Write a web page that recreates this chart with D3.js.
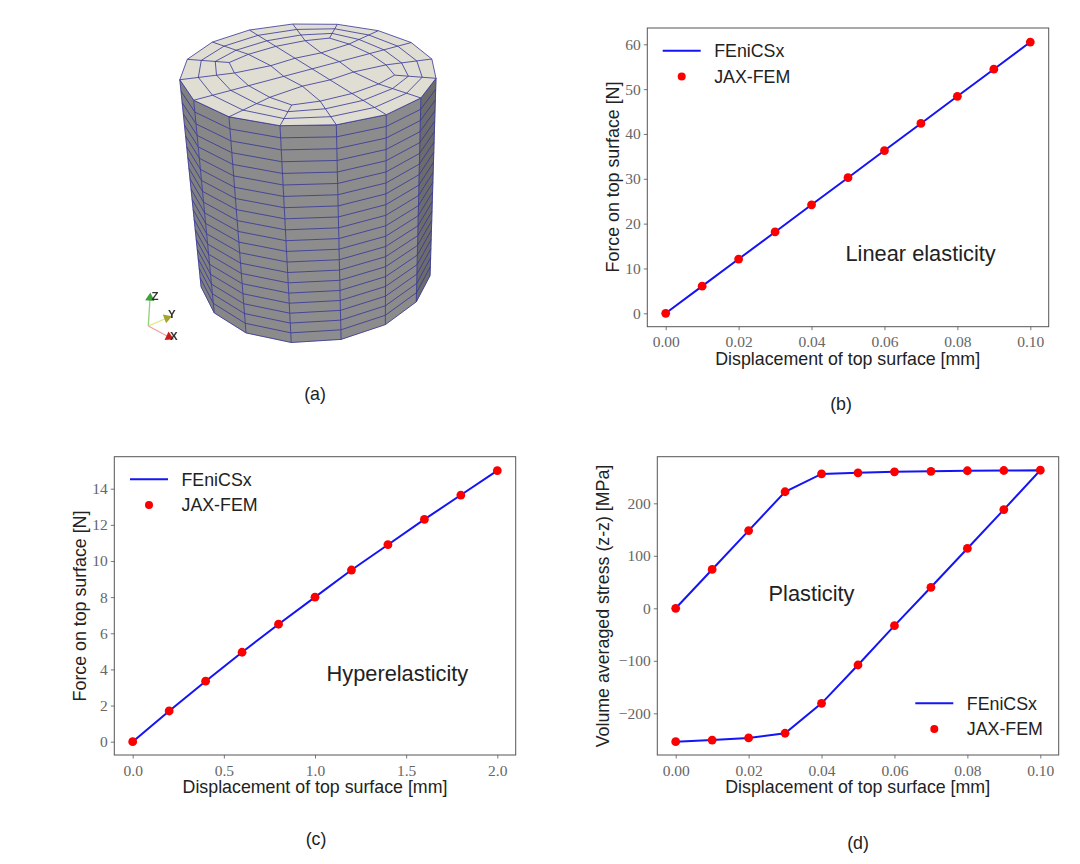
<!DOCTYPE html>
<html>
<head>
<meta charset="utf-8">
<script src="https://cdn.jsdelivr.net/npm/d3@7/dist/d3.min.js"></script>
<style>
  html, body { margin: 0; background: #fff; }
  svg { display: block; }
  .domain { display: none; }
</style>
</head>
<body>
<script>
// ---- values ----
const dispLinear = [0, 0.01, 0.02, 0.03, 0.04, 0.05, 0.06, 0.07, 0.08, 0.09, 0.10];
const forceLinear = [0, 6.05, 12.1, 18.15, 24.2, 30.25, 36.3, 42.35, 48.4, 54.45, 60.5];
const dispHyper = [0, 0.2, 0.4, 0.6, 0.8, 1.0, 1.2, 1.4, 1.6, 1.8, 2.0];
const forceHyper = [0, 1.7, 3.35, 4.95, 6.5, 8.0, 9.5, 10.9, 12.3, 13.65, 15.0];
const dispPlastic = [0, 0.01, 0.02, 0.03, 0.04, 0.05, 0.06, 0.07, 0.08, 0.09, 0.10,
  0.09, 0.08, 0.07, 0.06, 0.05, 0.04, 0.03, 0.02, 0.01, 0];
const stressPlastic = [0, 74, 148, 222, 256, 258, 260, 261, 262, 262.5, 263,
  188, 114, 40, -33, -108, -181, -238, -247, -251, -254];

const xTicksLinear = [0, 0.02, 0.04, 0.06, 0.08, 0.10];
const yTicksLinear = [0, 10, 20, 30, 40, 50, 60];
const xTicksHyper = [0, 0.5, 1.0, 1.5, 2.0];
const yTicksHyper = [0, 2, 4, 6, 8, 10, 12, 14];
const xTicksPlastic = [0, 0.02, 0.04, 0.06, 0.08, 0.10];
const yTicksPlastic = [-200, -100, 0, 100, 200];

const seriesNames = ['FEniCSx', 'JAX-FEM'];

const SANS = '"Liberation Sans", Arial, sans-serif';
const SERIF = '"Liberation Serif", serif';
const BLUE = '#1414f5';
const RED = '#fa0000';
const LABEL_SIZE = 17.8;

const svg = d3.select('body').append('svg').attr('width', 1080).attr('height', 864);

// ---- line charts ----
function drawPanel(p) {
  const g = svg.append('g');
  const x = d3.scaleLinear().domain(p.xDomain).range(p.xRange);
  const y = d3.scaleLinear().domain(p.yDomain).range(p.yRange);

  const xAxis = d3.axisBottom(x).tickValues(p.xTicks).tickSize(3.5).tickPadding(6)
    .tickFormat(d3.format(p.xFormat));
  const yAxis = d3.axisLeft(y).tickValues(p.yTicks).tickSize(3.5).tickPadding(3)
    .tickFormat(d => String(d).replace('-', '\u2212'));

  [[xAxis, `translate(0,${p.frame[3]})`], [yAxis, `translate(${p.frame[0]},0)`]].forEach(([ax, t]) => {
    const a = g.append('g').attr('transform', t).call(ax);
    a.selectAll('text').attr('font-family', SERIF).attr('font-size', 15.5).attr('fill', '#666');
    a.selectAll('line').attr('stroke', '#555').attr('stroke-width', 0.8);
  });

  g.append('path')
    .datum(p.ys)
    .attr('fill', 'none').attr('stroke', BLUE).attr('stroke-width', 2)
    .attr('d', d3.line().x((d, i) => x(p.xs[i])).y(d => y(d)));

  g.selectAll('circle.pt').data(p.ys).join('circle')
    .attr('class', 'pt').attr('r', 4.4).attr('fill', RED)
    .attr('cx', (d, i) => x(p.xs[i])).attr('cy', d => y(d));

  g.append('rect')
    .attr('x', p.frame[0]).attr('y', p.frame[1])
    .attr('width', p.frame[2] - p.frame[0]).attr('height', p.frame[3] - p.frame[1])
    .attr('fill', 'none').attr('stroke', '#555').attr('stroke-width', 1);

  // legend
  g.append('line')
    .attr('x1', p.legend.x).attr('x2', p.legend.x + 38)
    .attr('y1', p.legend.y).attr('y2', p.legend.y)
    .attr('stroke', BLUE).attr('stroke-width', 2);
  g.append('circle')
    .attr('cx', p.legend.x + 19).attr('cy', p.legend.y + 25.7).attr('r', 4).attr('fill', RED);
  seriesNames.forEach((name, i) => {
    g.append('text')
      .attr('x', p.legend.x + 51.5).attr('y', p.legend.y + 6.3 + i * 25.7)
      .attr('font-family', SANS).attr('font-size', LABEL_SIZE).attr('fill', '#222')
      .text(name);
  });

  const label = (txt, xx, yy, size, anchor, rot) => g.append('text')
    .attr('transform', `translate(${xx},${yy})` + (rot ? ' rotate(-90)' : ''))
    .attr('text-anchor', anchor)
    .attr('font-family', SANS).attr('font-size', size).attr('fill', '#222')
    .text(txt);

  label(p.xLabel, p.xLabelAt[0], p.xLabelAt[1], LABEL_SIZE, 'middle');
  label(p.yLabel, p.yLabelAt[0], p.yLabelAt[1], LABEL_SIZE, 'middle', true);
  label(p.note, p.noteAt[0], p.noteAt[1], 21.8, 'start');
  label(p.caption, p.captionAt[0], p.captionAt[1], LABEL_SIZE, 'middle');
}

const xTitle = 'Displacement of top surface [mm]';
const yTitle = 'Force on top surface [N]';

drawPanel({
  xs: dispLinear, ys: forceLinear, xTicks: xTicksLinear, yTicks: yTicksLinear,
  xDomain: [0, 0.1], xRange: [665.7, 1030.3], yDomain: [0, 60], yRange: [313.3, 44.3],
  frame: [647.3, 28, 1048.7, 326.7], xFormat: '.2f',
  legend: { x: 662.7, y: 50.7 },
  xLabel: xTitle, xLabelAt: [847.7, 365], yLabel: yTitle, yLabelAt: [619, 177],
  note: 'Linear elasticity', noteAt: [845.5, 261],
  caption: '(b)', captionAt: [841, 410]
});

drawPanel({
  xs: dispHyper, ys: forceHyper, xTicks: xTicksHyper, yTicks: yTicksHyper,
  xDomain: [0, 2], xRange: [132.7, 497.3], yDomain: [0, 14], yRange: [741.7, 488.7],
  frame: [114.3, 456.7, 515.7, 755], xFormat: '.1f',
  legend: { x: 130, y: 479.3 },
  xLabel: xTitle, xLabelAt: [315, 793.3], yLabel: yTitle, yLabelAt: [86, 606],
  note: 'Hyperelasticity', noteAt: [326.5, 681],
  caption: '(c)', captionAt: [316, 845]
});

drawPanel({
  xs: dispPlastic, ys: stressPlastic, xTicks: xTicksPlastic, yTicks: yTicksPlastic,
  xDomain: [0, 0.1], xRange: [675.7, 1040.3], yDomain: [-200, 200], yRange: [713.3, 503.3],
  frame: [657.3, 456.7, 1058.7, 755], xFormat: '.2f',
  legend: { x: 915.3, y: 703.3 },
  xLabel: xTitle, xLabelAt: [857.7, 793.3], yLabel: 'Volume averaged stress (z-z) [MPa]', yLabelAt: [609, 606],
  note: 'Plasticity', noteAt: [768.5, 600.7],
  caption: '(d)', captionAt: [858, 849]
});

// ---- panel (a): the meshed cylinder ----
// top face is a unit square under a homography, height goes towards a vanishing point
const topCorners = [[280, 125.7], [187.3, 59.3], [337.3, 24.3], [436, 78.3]];
const vanish = [378, 2010];
const zScale = 0.13;
const LAYERS = 20;
const ringFractions = [1 / 3, 2 / 3];
const blockRadius = 0.665;

function squareToQuad(q) {
  const [[x0, y0], [x1, y1], [x2, y2], [x3, y3]] = q;
  const dx1 = x1 - x2, dx2 = x3 - x2, dx3 = x0 - x1 + x2 - x3;
  const dy1 = y1 - y2, dy2 = y3 - y2, dy3 = y0 - y1 + y2 - y3;
  const den = dx1 * dy2 - dx2 * dy1;
  const g = (dx3 * dy2 - dx2 * dy3) / den;
  const h = (dx1 * dy3 - dx3 * dy1) / den;
  return { a: x1 - x0 + g * x1, b: x3 - x0 + h * x3, c: x0,
           d: y1 - y0 + g * y1, e: y3 - y0 + h * y3, f: y0, g, h };
}
const H = squareToQuad(topCorners);

function project(u, v, z = 0) {
  const w = H.g * u + H.h * v + 1 + z * zScale;
  return [(H.a * u + H.b * v + H.c + z * zScale * vanish[0]) / w,
          (H.d * u + H.e * v + H.f + z * zScale * vanish[1]) / w];
}

const rim = k => {
  const t = (225 + k * 22.5) * Math.PI / 180;
  return [0.5 + Math.SQRT1_2 * Math.cos(t), 0.5 + Math.SQRT1_2 * Math.sin(t)];
};
// inner 4x4 block, edges bowed outwards
const block = (i, j) => {
  const a = -1 + i / 2, b = -1 + j / 2;
  const m = Math.max(Math.abs(a), Math.abs(b));
  const n = Math.hypot(a, b);
  const f = m === 0 ? 1 : 1 + 0.19 * m * (Math.SQRT2 - n / m) / (Math.SQRT2 - 1);
  const s = blockRadius * 0.5 * f;
  return [0.5 + a * s, 0.5 + b * s];
};
const perim = k => {
  if (k < 4) return block(k, 0);
  if (k < 8) return block(4, k - 4);
  if (k < 12) return block(12 - k, 4);
  return block(0, 16 - k);
};
const mix = (p, q, t) => [p[0] + (q[0] - p[0]) * t, p[1] + (q[1] - p[1]) * t];

const defs = svg.append('defs');
defs.append('filter').attr('id', 'soft').append('feGaussianBlur').attr('stdDeviation', 0.55);
const mesh = svg.append('g').attr('filter', 'url(#soft)');

const line = d3.line();
const closed = d3.line().curve(d3.curveLinearClosed);
const MESH = '#35359a';
const rimIdx = d3.range(16);

// side faces, left to right
const sideColumns = [3, 2, 1, 0, 15, 14, 13, 12];
const faceShades = ['#808080', '#878787', '#8b8b8b', '#8d8d8d', '#8c8c8c', '#8b8b8b', '#6c6c6c'];

d3.pairs(sideColumns).forEach(([k0, k1], i) => {
  const a = rim(k0), b = rim(k1);
  mesh.append('path')
    .attr('d', closed([project(...a), project(...b), project(...b, 1), project(...a, 1)]))
    .attr('fill', faceShades[i]).attr('stroke', faceShades[i]).attr('stroke-width', 0.5);
  d3.range(LAYERS + 1).forEach(l => {
    mesh.append('path')
      .attr('d', line([project(...a, l / LAYERS), project(...b, l / LAYERS)]))
      .attr('stroke', MESH).attr('stroke-width', 1).attr('fill', 'none').attr('opacity', 0.8);
  });
});
sideColumns.forEach(k => {
  const a = rim(k);
  mesh.append('path')
    .attr('d', line([project(...a), project(...a, 1)]))
    .attr('stroke', MESH).attr('stroke-width', 1).attr('fill', 'none').attr('opacity', 0.8);
});

// top face
mesh.append('path')
  .attr('d', closed(rimIdx.map(k => project(...rim(k)))))
  .attr('fill', '#e0ddd2').attr('stroke', MESH).attr('stroke-width', 1).attr('stroke-opacity', 0.8);

const topLines = [];
rimIdx.forEach(k => topLines.push(line([project(...perim(k)), project(...rim(k))])));
ringFractions.forEach(t => {
  topLines.push(closed(rimIdx.map(k => project(...mix(rim(k), perim(k), t)))));
});
d3.range(5).forEach(i => {
  topLines.push(line(d3.range(5).map(j => project(...block(i, j)))));
  topLines.push(line(d3.range(5).map(j => project(...block(j, i)))));
});
mesh.selectAll('path.top').data(topLines).join('path')
  .attr('class', 'top').attr('d', d => d)
  .attr('fill', 'none').attr('stroke', MESH).attr('stroke-width', 1).attr('opacity', 0.8);

// orientation triad
const triadOrigin = [148.3, 326];
const triad = [
  { name: 'Z', tip: [150, 298], color: '#8fd07a', cone: '#3f9f3a', label: [151.5, 300], turn: 4 },
  { name: 'Y', tip: [167, 318], color: '#e6e27a', cone: '#a3a32e', label: [168, 318], turn: 70 },
  { name: 'X', tip: [169, 337], color: '#f0a0a0', cone: '#c81e1e', label: [170, 340], turn: 115 }
];
const cone = d3.symbol(d3.symbolTriangle, 38);
const axes3d = svg.append('g').attr('filter', 'url(#soft)');
triad.forEach(t => {
  axes3d.append('line')
    .attr('x1', triadOrigin[0]).attr('y1', triadOrigin[1]).attr('x2', t.tip[0]).attr('y2', t.tip[1])
    .attr('stroke', t.color).attr('stroke-width', 1.3);
  axes3d.append('path').attr('d', cone())
    .attr('transform', `translate(${t.tip[0]},${t.tip[1]}) rotate(${t.turn})`)
    .attr('fill', t.cone);
  axes3d.append('text').attr('x', t.label[0]).attr('y', t.label[1])
    .attr('font-family', SANS).attr('font-size', 11.5).attr('font-weight', 'bold').attr('fill', '#333')
    .text(t.name);
});

svg.append('text')
  .attr('x', 315).attr('y', 400).attr('text-anchor', 'middle')
  .attr('font-family', SANS).attr('font-size', LABEL_SIZE).attr('fill', '#222')
  .text('(a)');
</script>
</body>
</html>
